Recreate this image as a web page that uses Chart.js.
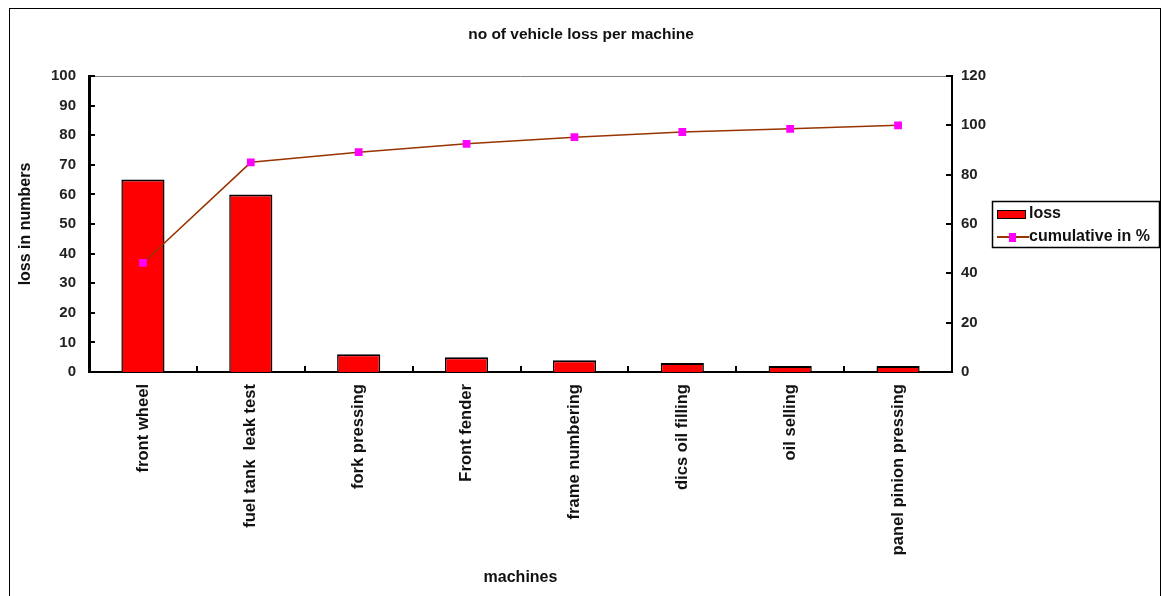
<!DOCTYPE html>
<html>
<head>
<meta charset="utf-8">
<title>no of vehicle loss per machine</title>
<script src="https://cdn.jsdelivr.net/npm/chart.js@4/dist/chart.umd.min.js"></script>
<style>
  html, body { margin: 0; padding: 0; background: #ffffff; }
  #wrap { position: relative; width: 1162px; height: 596px; }
</style>
</head>
<body>
<div id="wrap"><canvas id="pareto" width="1162" height="596"></canvas></div>
<script>
// Machines, ordered by loss (Pareto order)
const machines = [
  'front wheel',
  'fuel tank  leak test',
  'fork pressing',
  'Front fender',
  'frame numbering',
  'dics oil filling',
  'oil selling',
  'panel pinion pressing'
];
// Vehicles lost at each machine
const lossValues = [65, 60, 6, 5, 4, 3, 2, 2];
// Running share of all losses, in percent
const cumulativePct = [44.2, 85.0, 89.1, 92.5, 95.2, 97.3, 98.6, 100];
// Axis tick values
const lossTicks = [0, 10, 20, 30, 40, 50, 60, 70, 80, 90, 100];
const pctTicks = [0, 20, 40, 60, 80, 100, 120];

const FONT = "'Liberation Sans', Arial, sans-serif";
const TEXT = '#111111';

// Frame around the whole chart, plot top edge and inward tick marks
const framePlugin = {
  id: 'frame',
  beforeDraw(chart) {
    const ctx = chart.ctx;
    ctx.save();
    ctx.fillStyle = '#ffffff';
    ctx.fillRect(0, 0, chart.width, chart.height);
    ctx.strokeStyle = '#000000';
    ctx.lineWidth = 1;
    ctx.strokeRect(9.5, 8.5, 1151, 640);
    ctx.restore();
  },
  afterDraw(chart) {
    const ctx = chart.ctx;
    const {left, right, top, bottom} = chart.chartArea;
    const y = chart.scales.y, y1 = chart.scales.y1, x = chart.scales.x;
    ctx.save();
    // grey top edge of the plot area
    ctx.strokeStyle = '#808080';
    ctx.lineWidth = 1;
    ctx.beginPath();
    ctx.moveTo(left, top + 0.5);
    ctx.lineTo(right, top + 0.5);
    ctx.stroke();
    // inward tick marks
    ctx.strokeStyle = '#000000';
    ctx.lineWidth = 2;
    ctx.beginPath();
    y.ticks.forEach(t => {
      const py = Math.round(y.getPixelForValue(t.value));
      ctx.moveTo(left, py); ctx.lineTo(left + 6, py);
    });
    y1.ticks.forEach(t => {
      const py = Math.round(y1.getPixelForValue(t.value));
      ctx.moveTo(right - 6, py); ctx.lineTo(right, py);
    });
    for (let i = 1; i < machines.length; i++) {
      const px = Math.round((x.getPixelForValue(i - 1) + x.getPixelForValue(i)) / 2);
      ctx.moveTo(px, bottom); ctx.lineTo(px, bottom - 6);
    }
    ctx.stroke();
    ctx.restore();
  }
};

// Boxed legend beside the right axis
const boxLegendPlugin = {
  id: 'boxLegend',
  afterDraw(chart) {
    const ctx = chart.ctx;
    const [lineDs, barDs] = chart.data.datasets;
    const bx = 992, by = 201, bw = 167, bh = 46;
    ctx.save();
    ctx.fillStyle = '#ffffff';
    ctx.fillRect(bx, by, bw, bh);
    ctx.strokeStyle = '#000000';
    ctx.lineWidth = 1.5;
    ctx.strokeRect(bx + 0.5, by + 0.5, bw, bh);

    ctx.font = 'bold 16px ' + FONT;
    ctx.textBaseline = 'middle';
    ctx.textAlign = 'left';
    ctx.fillStyle = TEXT;

    // bar entry
    ctx.fillStyle = barDs.backgroundColor;
    ctx.fillRect(997, 210, 29, 9);
    ctx.strokeStyle = '#000000';
    ctx.lineWidth = 1;
    ctx.strokeRect(997.5, 210.5, 28, 8);
    ctx.fillStyle = TEXT;
    ctx.fillText(barDs.label, 1029, 214);

    // line entry
    ctx.strokeStyle = lineDs.borderColor;
    ctx.lineWidth = 2;
    ctx.beginPath();
    ctx.moveTo(997, 237); ctx.lineTo(1029, 237);
    ctx.stroke();
    ctx.fillStyle = lineDs.pointBackgroundColor;
    ctx.fillRect(1009, 233, 7, 9);
    ctx.fillStyle = TEXT;
    ctx.fillText(lineDs.label, 1029, 237);
    ctx.restore();
  }
};

new Chart(document.getElementById('pareto'), {
  data: {
    labels: machines,
    datasets: [
      {
        type: 'line',
        label: 'cumulative in %',
        data: cumulativePct,
        yAxisID: 'y1',
        borderColor: '#993300',
        borderWidth: 1.5,
        pointStyle: 'rect',
        pointRadius: 5.5,
        pointBorderWidth: 0,
        pointBackgroundColor: '#FF00FF',
        pointBorderColor: '#FF00FF',
        tension: 0,
        order: 0
      },
      {
        type: 'bar',
        label: 'loss',
        data: lossValues,
        yAxisID: 'y',
        backgroundColor: '#FF0000',
        borderColor: '#000000',
        borderWidth: {top: 2, left: 1.5, right: 1.5, bottom: 0},
        barPercentage: 0.4,
        categoryPercentage: 1.0,
        order: 1
      }
    ]
  },
  options: {
    responsive: false,
    animation: false,
    events: [],
    layout: { padding: { left: 0, right: 0, top: 0, bottom: 0 } },
    plugins: {
      legend: { display: false },
      tooltip: { enabled: false },
      title: {
        display: true,
        text: 'no of vehicle loss per machine',
        color: TEXT,
        font: { family: FONT, size: 15.5, weight: 'bold', lineHeight: 1.2 },
        padding: { top: 25, bottom: 32.4 }
      }
    },
    scales: {
      x: {
        offset: true,
        grid: { display: false, drawTicks: false },
        border: { display: true, color: '#000000', width: 2 },
        ticks: {
          autoSkip: false,
          minRotation: 90,
          maxRotation: 90,
          padding: 12,
          color: TEXT,
          font: { family: FONT, size: 16.6, weight: 'bold' }
        },
        title: {
          display: true,
          text: 'machines',
          color: TEXT,
          font: { family: FONT, size: 16, weight: 'bold', lineHeight: 1.2 },
          padding: { top: 0, bottom: 8.4 }
        },
        afterFit(scale) { scale.height = 224; }
      },
      y: {
        position: 'left',
        min: 0,
        max: 100,
        grid: { display: false, drawTicks: false },
        border: { display: true, color: '#000000', width: 3 },
        afterBuildTicks(scale) { scale.ticks = lossTicks.map(v => ({ value: v })); },
        ticks: {
          padding: 13,
          color: '#222222',
          font: { family: FONT, size: 15, weight: 'bold' }
        },
        title: {
          display: true,
          text: 'loss in numbers',
          color: TEXT,
          font: { family: FONT, size: 16, weight: 'bold', lineHeight: 1.2 },
          padding: { top: 16.4, bottom: 0 }
        },
        afterFit(scale) { scale.width = 89; }
      },
      y1: {
        position: 'right',
        min: 0,
        max: 120,
        grid: { display: false, drawTicks: false },
        border: { display: true, color: '#000000', width: 2 },
        afterBuildTicks(scale) { scale.ticks = pctTicks.map(v => ({ value: v })); },
        ticks: {
          padding: 9,
          color: '#222222',
          font: { family: FONT, size: 15, weight: 'bold' }
        },
        afterFit(scale) { scale.width = 210; }
      }
    }
  },
  plugins: [framePlugin, boxLegendPlugin]
});
</script>
</body>
</html>
